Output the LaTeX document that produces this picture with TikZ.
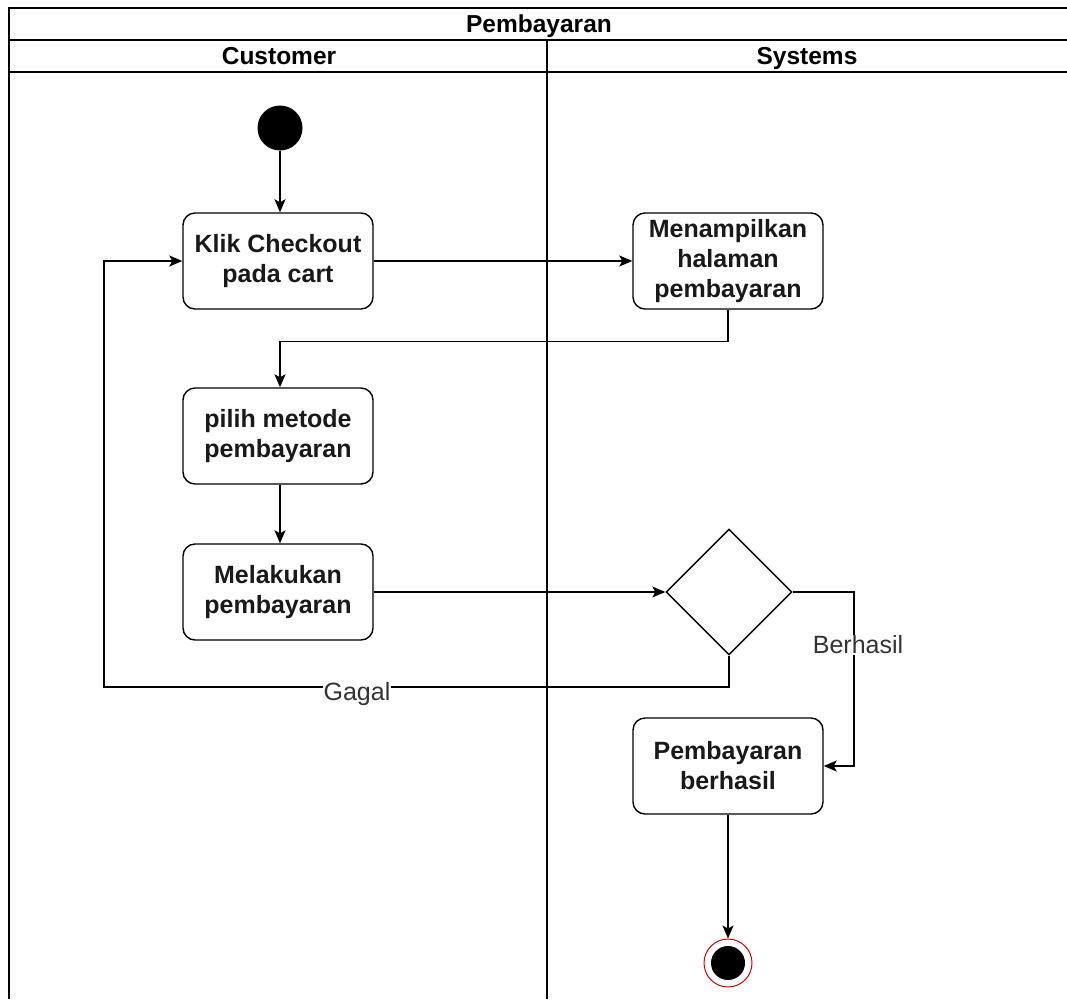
\documentclass[tikz,border=0pt]{standalone}
\usepackage{fontspec}
\setmainfont{Liberation Sans}
\usetikzlibrary{shapes.geometric,arrows.meta}
\begin{document}
\begin{tikzpicture}[x=1pt,y=-1pt,
  lane/.style={line width=1.4pt,draw=black},
  act/.style={draw=black,line width=1.4pt,rectangle,rounded corners=12pt,minimum width=190pt,minimum height=96pt,align=center,inner sep=2pt,font=\bfseries\fontsize{25}{30}\selectfont,text=black!90},
  dec/.style={draw=black,line width=1.4pt,diamond,minimum width=126pt,minimum height=126pt,inner sep=0pt},
  flow/.style={line width=1.4pt,-{Stealth[length=13pt,width=11pt,inset=3pt]}},
  lbl/.style={fill=white,inner sep=1pt,font=\fontsize{25}{28}\selectfont,text=black!80},
  hdr/.style={font=\bfseries\fontsize{24.5}{26}\selectfont,inner sep=0pt,anchor=base}]
\useasboundingbox (0,0) rectangle (1067,999);
% swimlane frame
\draw[lane] (9,999) -- (9,8) -- (1067,8);
\draw[lane] (9,40) -- (1067,40);
\draw[lane] (9,72) -- (1067,72);
\draw[lane,line width=1.1pt] (547,40) -- (547,999);
\node[hdr] (title) at (539,32) {Pembayaran};
\node[hdr] (cust) at (279,64) {Customer};
\node[hdr] (sys) at (807,64) {Systems};
% nodes
\node[circle,fill=black,minimum size=45pt,inner sep=0pt] (start) at (280,128) {};
\node[act] (b1) at (278,261) {Klik Checkout\\pada cart};
\node[act] (b2) at (728,261) {Menampilkan\\halaman\\pembayaran};
\node[act] (b3) at (278,436) {pilih metode\\pembayaran};
\node[act] (b4) at (278,592) {Melakukan\\pembayaran};
\node[dec] (dia) at (729,592) {};
\node[act] (b5) at (728,766) {Pembayaran\\berhasil};
\node[circle,draw=red!85!black,line width=1pt,minimum size=48pt,inner sep=0pt] (end) at (728,963) {};
\node[circle,fill=black,minimum size=34pt,inner sep=0pt] (endin) at (end.center) {};
\coordinate (gl) at (104,687);
\coordinate (br) at (854,592);
% connectors
\draw[flow] (start) -- (b1.north -| start);
\draw[flow] (b1.east) -- (b2.west);
\draw[flow] (b2.south) -- ++(0,32) -| (b3.north -| start);
\draw[flow] (b3.south -| start) -- (b4.north -| start);
\draw[flow] (b4.east) -- (dia.west);
\draw[flow] (dia.south) |- (gl) |- (b1.west);
\draw[flow] (dia.east) -- (br) |- (b5.east);
\draw[flow] (b5.south) -- (end.north);
% labels
\node[lbl] (gagal) at (357,694) {Gagal};
\node[lbl] (berhasil) at (858,645) {Berhasil};
\end{tikzpicture}
\end{document}
